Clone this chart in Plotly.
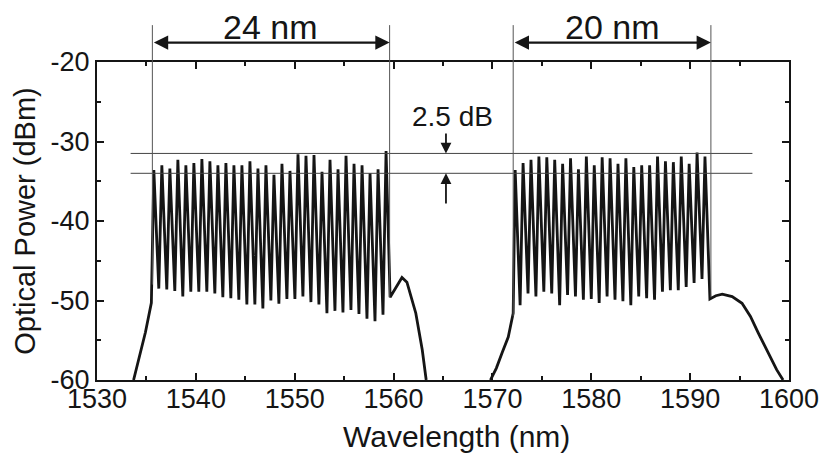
import plotly.graph_objects as go

# Two WDM channel combs (L/C style bands) measured on an optical spectrum analyser
left_peak_nm = [1535.75, 1536.56, 1537.37, 1538.18, 1538.99, 1539.80, 1540.61, 1541.42,
                1542.23, 1543.04, 1543.85, 1544.66, 1545.47, 1546.28, 1547.09, 1547.90,
                1548.71, 1549.52, 1550.33, 1551.14, 1551.95, 1552.76, 1553.57, 1554.38,
                1555.19, 1556.00, 1556.81, 1557.62, 1558.43, 1559.24]
left_peak_dbm = [-33.6, -33.0, -33.4, -32.3, -33.0, -32.7, -32.2, -32.5, -33.0, -32.7,
                 -33.0, -33.0, -32.5, -33.4, -33.0, -34.2, -32.8, -33.7, -31.6, -31.8,
                 -31.7, -33.8, -32.3, -33.5, -31.8, -32.8, -33.0, -34.0, -33.5, -31.2]
left_trough_nm = [1536.25, 1537.06, 1537.87, 1538.68, 1539.49, 1540.30, 1541.11, 1541.92,
                  1542.73, 1543.54, 1544.35, 1545.16, 1545.97, 1546.78, 1547.59, 1548.40,
                  1549.21, 1550.02, 1550.83, 1551.64, 1552.45, 1553.26, 1554.07, 1554.88,
                  1555.69, 1556.50, 1557.31, 1558.12, 1558.93]
left_trough_dbm = [-48.5, -48.6, -48.8, -49.5, -48.9, -48.9, -48.9, -49.1, -49.6, -49.7,
                   -49.9, -50.5, -50.5, -51.0, -50.0, -50.4, -49.8, -49.8, -49.5, -50.2,
                   -50.5, -51.6, -51.3, -51.5, -51.2, -51.7, -52.3, -52.6, -51.8]

right_peak_nm = [1572.3, 1573.1, 1573.9, 1574.7, 1575.5, 1576.3, 1577.1, 1577.9, 1578.7,
                 1579.5, 1580.3, 1581.1, 1581.9, 1582.7, 1583.5, 1584.3, 1585.1, 1585.9,
                 1586.7, 1587.5, 1588.3, 1589.1, 1589.9, 1590.7, 1591.5]
right_peak_dbm = [-33.6, -32.7, -32.3, -31.9, -32.0, -32.3, -32.8, -32.1, -33.5, -31.9,
                  -33.0, -32.0, -32.1, -32.8, -32.1, -33.2, -33.0, -33.0, -31.9, -32.5,
                  -32.6, -31.9, -32.8, -31.4, -31.9]
right_trough_nm = [1572.8, 1573.6, 1574.4, 1575.2, 1576.0, 1576.8, 1577.6, 1578.4, 1579.2,
                   1580.0, 1580.8, 1581.6, 1582.4, 1583.2, 1584.0, 1584.8, 1585.6, 1586.4,
                   1587.2, 1588.0, 1588.8, 1589.6, 1590.4, 1591.2]
right_trough_dbm = [-50.6, -49.1, -49.5, -48.9, -49.1, -50.6, -49.3, -49.5, -49.9, -49.8,
                    -50.3, -49.5, -49.9, -50.1, -50.6, -49.5, -49.7, -49.9, -48.9, -48.7,
                    -48.7, -48.3, -47.8, -47.3]

# ASE shoulders on either side of each comb
left_rise_nm = [1533.7, 1534.3, 1534.9, 1535.5]
left_rise_dbm = [-60.0, -57.0, -54.0, -50.3]
left_tail_nm = [1559.65, 1560.25, 1560.85, 1561.35, 1561.8, 1562.25, 1562.9, 1563.3]
left_tail_dbm = [-49.6, -48.3, -47.1, -47.7, -49.6, -51.6, -56.2, -60.0]
right_rise_nm = [1569.8, 1570.4, 1571.0, 1571.6, 1572.1]
right_rise_dbm = [-60.0, -58.5, -56.5, -54.6, -51.6]
right_tail_nm = [1592.0, 1592.6, 1593.25, 1594.25, 1595.25, 1596.1, 1596.9, 1597.9, 1598.75, 1599.4]
right_tail_dbm = [-49.8, -49.4, -49.2, -49.5, -50.35, -52.0, -54.1, -56.6, -58.7, -60.0]

# Axis ticks
x_ticks = [1530, 1540, 1550, 1560, 1570, 1580, 1590, 1600]
y_ticks = [-60, -50, -40, -30, -20]
y_tick_text = ["-60", "-50", "-40", "-30", "-20"]

# Annotation values
left_span_nm = (1535.6, 1559.6)     # 24 nm
right_span_nm = (1572.1, 1592.1)    # 20 nm
ripple_top_dbm = -31.5
ripple_bottom_dbm = -34.0            # 2.5 dB flatness window
ripple_line_nm = (1533.4, 1596.3)
ripple_arrow_nm = 1565.3


def comb(peaks_x, peaks_y, troughs_x, troughs_y):
    xs, ys = [], []
    for i in range(len(peaks_x)):
        xs.append(peaks_x[i]); ys.append(peaks_y[i])
        if i < len(troughs_x):
            xs.append(troughs_x[i]); ys.append(troughs_y[i])
    return xs, ys


lx, ly = comb(left_peak_nm, left_peak_dbm, left_trough_nm, left_trough_dbm)
rx, ry = comb(right_peak_nm, right_peak_dbm, right_trough_nm, right_trough_dbm)

x = left_rise_nm + lx + left_tail_nm + [None] + right_rise_nm + rx + right_tail_nm
y = left_rise_dbm + ly + left_tail_dbm + [None] + right_rise_dbm + ry + right_tail_dbm

FONT = "Liberation Sans, Arial, Helvetica, sans-serif"
INK = "#151515"

fig = go.Figure()
fig.add_trace(go.Scatter(x=x, y=y, mode="lines", connectgaps=False,
                         line=dict(color=INK, width=2.8), hoverinfo="skip",
                         showlegend=False))

shapes = []
# flatness window lines
for yv in (ripple_top_dbm, ripple_bottom_dbm):
    shapes.append(dict(type="line", xref="x", yref="y",
                       x0=ripple_line_nm[0], x1=ripple_line_nm[1], y0=yv, y1=yv,
                       line=dict(color="#444", width=1)))
# band edge markers, rising above the frame
for xv, ybot in ((left_span_nm[0], 0.30), (left_span_nm[1], 0.26),
                 (right_span_nm[0], 0.20), (right_span_nm[1], 0.26)):
    shapes.append(dict(type="line", xref="x", yref="paper",
                       x0=xv, x1=xv, y0=ybot, y1=1.116,
                       line=dict(color="#555", width=1)))

annotations = []
for (a, b), label in ((left_span_nm, "24 nm"), (right_span_nm, "20 nm")):
    annotations.append(dict(x=b, y=1.061, xref="x", yref="paper",
                            ax=a, ay=0, axref="x", ayref="pixel",
                            text="", showarrow=True, arrowhead=2, arrowside="end+start",
                            arrowsize=1.3, arrowwidth=2.2, arrowcolor=INK,
                            standoff=0, startstandoff=0))
    annotations.append(dict(x=(a + b) / 2, y=1.11, xref="x", yref="paper",
                            yanchor="middle", xanchor="center",
                            text=label, showarrow=False,
                            font=dict(family=FONT, size=34, color=INK)))

annotations.append(dict(x=ripple_arrow_nm, y=ripple_top_dbm, xref="x", yref="y",
                        ax=ripple_arrow_nm, ay=-28.8, axref="x", ayref="y",
                        text="", showarrow=True, arrowhead=2, arrowsize=1.2,
                        arrowwidth=1.8, arrowcolor=INK, standoff=0))
annotations.append(dict(x=ripple_arrow_nm, y=ripple_bottom_dbm, xref="x", yref="y",
                        ax=ripple_arrow_nm, ay=-38.0, axref="x", ayref="y",
                        text="", showarrow=True, arrowhead=2, arrowsize=1.2,
                        arrowwidth=1.8, arrowcolor=INK, standoff=0))
annotations.append(dict(x=ripple_arrow_nm + 0.7, y=-26.9, xref="x", yref="y",
                        yanchor="middle", text="2.5 dB", showarrow=False,
                        font=dict(family=FONT, size=28, color=INK)))
# x axis title, set slightly right of the plot centre
annotations.append(dict(x=0.519, y=-0.179, xref="paper", yref="paper",
                        xanchor="center", yanchor="middle",
                        text="Wavelength (nm)", showarrow=False,
                        font=dict(family=FONT, size=30, color=INK)))

axis_common = dict(showgrid=False, zeroline=False, showline=True, linecolor=INK,
                   linewidth=2, mirror="ticks", ticks="inside", ticklen=7,
                   tickwidth=2, tickcolor=INK,
                   tickfont=dict(family=FONT, size=27, color=INK))

fig.update_layout(
    width=831, height=460,
    margin=dict(l=97, r=34, t=62, b=80),
    paper_bgcolor="white", plot_bgcolor="white",
    font=dict(family=FONT, color=INK),
    shapes=shapes, annotations=annotations,
    xaxis=dict(range=[1530, 1600], tickvals=x_ticks,
               minor=dict(dtick=5, ticks="inside", ticklen=4, tickwidth=1.5, tickcolor=INK),
               ticklabelstandoff=-6,
               **axis_common),
    yaxis=dict(range=[-60, -20], tickvals=y_ticks, ticktext=y_tick_text,
               minor=dict(dtick=5, ticks="inside", ticklen=4, tickwidth=1.5, tickcolor=INK),
               title=dict(text="Optical Power (dBm)", font=dict(family=FONT, size=29, color=INK),
                          standoff=6),
               **axis_common),
)

fig.write_html("out.html")
